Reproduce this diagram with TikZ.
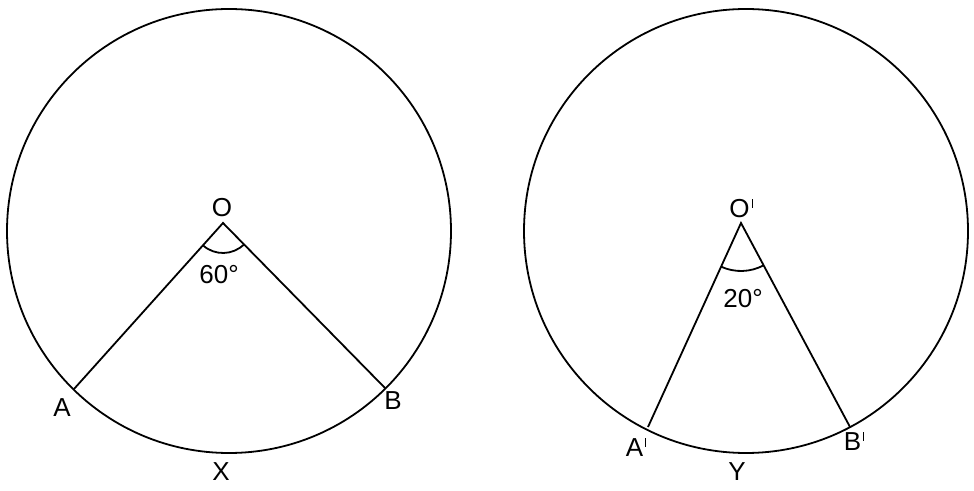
\documentclass[tikz,border=0pt]{standalone}
\usepackage{fontspec}
\setmainfont{Liberation Sans}
\usetikzlibrary{angles}
\newcommand{\pmark}{\kern2pt\raisebox{9.5pt}{\rule{1.1pt}{9pt}}}
\begin{document}
\begin{tikzpicture}[x=1pt,y=1pt,
  lbl/.style={inner sep=0pt, font=\fontsize{26}{28}\selectfont},
  geo/.style={line width=1.8pt, black}]
\useasboundingbox (0,0) rectangle (974,490);
% left figure
\coordinate (C1) at (229,259);
\coordinate (O) at (223,267);
\coordinate (A) at (74,101);
\coordinate (B) at (385,102);
\draw[geo] (C1) circle (222);
\draw[geo] (A) -- (O) -- (B);
\pic[draw, geo, angle radius=30pt] {angle = A--O--B};
\node[lbl] (lO) at (222,282) {O};
\node[lbl] (l60) at (219,215) {60°};
\node[lbl] (lA) at (62,82) {A};
\node[lbl] (lB) at (393,89) {B};
\node[lbl] (lX) at (221,18) {X};
% right figure
\coordinate (C2) at (746,259);
\coordinate (O2) at (741,267);
\coordinate (A2) at (648,63);
\coordinate (B2) at (850,63);
\draw[geo] (C2) circle (222);
\draw[geo] (A2) -- (O2) -- (B2);
\pic[draw, geo, angle radius=48pt] {angle = A2--O2--B2};
\node[lbl] (lO2) at (741,282) {O\pmark};
\node[lbl] (l20) at (743,191) {20°};
\node[lbl] (lA2) at (636,43) {A\pmark};
\node[lbl] (lB2) at (854,49) {B\pmark};
\node[lbl] (lY) at (737,18) {Y};
\end{tikzpicture}
\end{document}
